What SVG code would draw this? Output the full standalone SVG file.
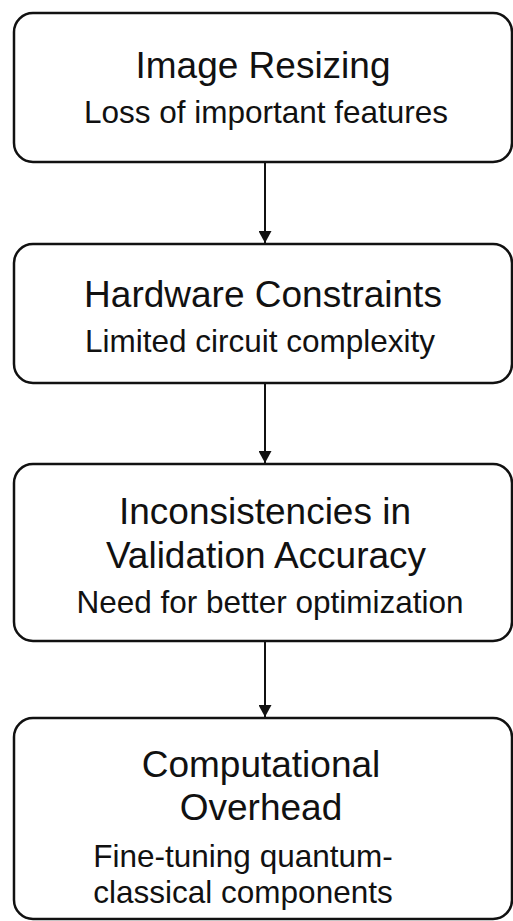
<svg xmlns="http://www.w3.org/2000/svg" width="513" height="921" viewBox="0 0 513 921">
  <style>
    .box { fill: #ffffff; stroke: #111111; stroke-width: 2.5; }
    .edge { stroke: #111111; stroke-width: 2; fill: none; }
    .title { font-family: "Liberation Sans", Arial, Helvetica, sans-serif; font-size: 37px; fill: #111111; text-anchor: middle; }
    .sub { font-family: "Liberation Sans", Arial, Helvetica, sans-serif; font-size: 31.5px; fill: #111111; text-anchor: middle; }
  </style>
  <defs>
    <marker id="arrow" viewBox="0 0 12 13" refX="12" refY="6.5" markerWidth="12" markerHeight="13" markerUnits="userSpaceOnUse" orient="auto">
      <path d="M0,0 L12,6.5 L0,13 Z" fill="#111111"/>
    </marker>
  </defs>
  <rect width="513" height="921" fill="#ffffff"/>

  <g id="connectors">
    <line class="edge" x1="265" y1="163" x2="265" y2="243" marker-end="url(#arrow)"/>
    <line class="edge" x1="265" y1="384" x2="265" y2="463" marker-end="url(#arrow)"/>
    <line class="edge" x1="265" y1="642" x2="265" y2="717" marker-end="url(#arrow)"/>
  </g>

  <g id="image-resizing">
    <rect class="box" x="14" y="13" width="498" height="149" rx="19"/>
    <text class="title" x="263" y="78">Image Resizing</text>
    <text class="sub" x="266" y="123">Loss of important features</text>
  </g>

  <g id="hardware-constraints">
    <rect class="box" x="14" y="244" width="498" height="139" rx="19"/>
    <text class="title" x="263" y="307">Hardware Constraints</text>
    <text class="sub" x="260" y="352">Limited circuit complexity</text>
  </g>

  <g id="validation-accuracy">
    <rect class="box" x="14" y="464" width="498" height="177" rx="19"/>
    <text class="title" x="265" y="524">Inconsistencies in</text>
    <text class="title" x="266" y="568">Validation Accuracy</text>
    <text class="sub" x="270" y="613">Need for better optimization</text>
  </g>

  <g id="computational-overhead">
    <rect class="box" x="14" y="718" width="498" height="201" rx="19"/>
    <text class="title" x="261" y="777">Computational</text>
    <text class="title" x="261" y="820">Overhead</text>
    <text class="sub" x="243" y="867">Fine-tuning quantum-</text>
    <text class="sub" x="243" y="903">classical components</text>
  </g>
</svg>
